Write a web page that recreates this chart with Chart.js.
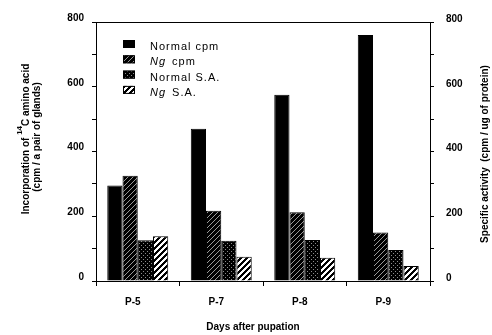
<!DOCTYPE html>
<html>
<head>
<meta charset="utf-8">
<script src="https://cdn.jsdelivr.net/npm/chart.js@4"></script>
<style>
  html, body { margin: 0; padding: 0; background: #fff; }
  #wrap { width: 492px; height: 335px; }
</style>
</head>
<body>
<div id="wrap"><canvas id="chart" width="492" height="335"></canvas></div>
<script>
const days = ["P-5", "P-7", "P-8", "P-9"];
const normalCpm = [295, 470, 575, 760];
const ngCpm = [325, 217, 212, 150];
const normalSA = [126, 124, 127, 96];
const ngSA = [138, 75, 72, 46];
const yTicks = [0, 200, 400, 600, 800];

const FONT = "'Liberation Sans', Arial, sans-serif";

// little tiles for the fill patterns
function makePattern(size, draw) {
  const c = document.createElement('canvas');
  c.width = size; c.height = size;
  const g = c.getContext('2d');
  draw(g, size);
  return document.getElementById('chart').getContext('2d').createPattern(c, 'repeat');
}

const hatchDark = makePattern(5, (g, s) => {
  g.fillStyle = '#000'; g.fillRect(0, 0, s, s);
  g.fillStyle = '#9a9a9a';
  for (let i = 0; i < s; i++) g.fillRect(i, s - 1 - i, 1, 1);
});
const dotsDark = makePattern(4, (g, s) => {
  g.fillStyle = '#000'; g.fillRect(0, 0, s, s);
  g.fillStyle = '#8c8c8c';
  g.fillRect(1, 1, 1, 1); g.fillRect(3, 3, 1, 1);
});
const stripes = makePattern(6, (g, s) => {
  g.fillStyle = '#fff'; g.fillRect(0, 0, s, s);
  g.fillStyle = '#000';
  for (let x = 0; x < s; x++) {
    for (let k = 0; k < 3; k++) g.fillRect(x, (s - 1 - x + k) % s, 1, 1);
  }
});

const series = [
  { label: "Normal cpm", data: normalCpm, fill: '#000', axis: 'y' },
  { label: "Ng cpm", data: ngCpm, fill: hatchDark, axis: 'y' },
  { label: "Normal S.A.", data: normalSA, fill: dotsDark, axis: 'y1' },
  { label: "Ng S.A.", data: ngSA, fill: stripes, axis: 'y1' }
];

// legend, axis titles and top frame line
const extras = {
  id: 'extras',
  afterDraw(chart) {
    const ctx = chart.ctx;
    const a = chart.chartArea;
    ctx.save();
    ctx.strokeStyle = '#000';
    ctx.lineWidth = 1;
    ctx.beginPath();
    ctx.moveTo(a.left, a.top + 0.5);
    ctx.lineTo(a.right, a.top + 0.5);
    ctx.stroke();

    // legend
    chart.data.datasets.forEach((ds, i) => {
      const y = 40 + i * 15.3;
      ctx.fillStyle = ds.backgroundColor;
      ctx.fillRect(123, y, 12, 8);
      ctx.strokeRect(123.5, y + 0.5, 11, 7);
      ctx.fillStyle = '#000';
      ctx.textBaseline = 'middle';
      ctx.textAlign = 'left';
      ctx.letterSpacing = '1px';
      let x = 150;
      let rest = ds.label;
      if (rest.startsWith('Ng')) {
        ctx.font = 'italic 11px ' + FONT;
        ctx.fillText('Ng', x, y + 7);
        x += ctx.measureText('Ng').width + 2;
        rest = rest.slice(2);
      }
      ctx.font = '11px ' + FONT;
      ctx.fillText(rest, x, y + 7);
    });
    ctx.letterSpacing = '0px';

    // left title, two lines, with superscript 14
    ctx.fillStyle = '#000';
    ctx.save();
    ctx.translate(26, 139);
    ctx.rotate(-Math.PI / 2);
    ctx.textBaseline = 'middle';
    ctx.textAlign = 'left';
    const p1 = 'Incorporation of ', p2 = '14', p3 = 'C amino acid';
    ctx.font = 'bold 10px ' + FONT;
    const w1 = ctx.measureText(p1).width, w3 = ctx.measureText(p3).width;
    ctx.font = 'bold 8px ' + FONT;
    const w2 = ctx.measureText(p2).width;
    let x0 = -(w1 + w2 + w3) / 2;
    ctx.font = 'bold 10px ' + FONT;
    ctx.fillText(p1, x0, 0);
    ctx.font = 'bold 8px ' + FONT;
    ctx.fillText(p2, x0 + w1, -6);
    ctx.font = 'bold 10px ' + FONT;
    ctx.fillText(p3, x0 + w1 + w2, 0);
    ctx.restore();

    ctx.save();
    ctx.translate(37, 137);
    ctx.rotate(-Math.PI / 2);
    ctx.textAlign = 'center';
    ctx.textBaseline = 'middle';
    ctx.font = 'bold 10px ' + FONT;
    ctx.fillText('(cpm / a pair of glands)', 0, 0);
    ctx.restore();

    // right title
    ctx.save();
    ctx.translate(485, 154);
    ctx.rotate(-Math.PI / 2);
    ctx.textAlign = 'center';
    ctx.textBaseline = 'middle';
    ctx.font = 'bold 10px ' + FONT;
    ctx.fillText('Specific activity  (cpm / ug of protein)', 0, 0);
    ctx.restore();

    // x title
    ctx.textAlign = 'center';
    ctx.textBaseline = 'middle';
    ctx.font = 'bold 10px ' + FONT;
    ctx.fillText('Days after pupation', 253, 327);
    ctx.restore();
  }
};

function yAxis(position, offset) {
  return {
    type: 'linear',
    position: position,
    min: 0,
    max: 800,
    afterBuildTicks(scale) {
      scale.ticks = [];
      for (let v = 0; v <= 800; v += 100) scale.ticks.push({ value: v });
    },
    afterFit(scale) { scale.width = position === 'left' ? 96 : 62; },
    grid: { display: true, drawOnChartArea: false, color: '#000', tickLength: 4, lineWidth: 1 },
    border: { display: true, color: '#000', width: 1 },
    ticks: {
      color: '#000',
      padding: position === 'left' ? 8 : 12,
      labelOffset: offset,
      font: { family: FONT, size: 10, weight: 'bold' },
      callback: v => yTicks.includes(v) ? String(v) : ''
    }
  };
}

new Chart(document.getElementById('chart'), {
  type: 'bar',
  data: {
    labels: days,
    datasets: series.map(s => ({
      label: s.label,
      data: s.data,
      yAxisID: s.axis,
      backgroundColor: s.fill,
      borderColor: '#000',
      borderWidth: 1,
      categoryPercentage: 0.73,
      barPercentage: 1
    }))
  },
  plugins: [extras],
  options: {
    responsive: false,
    animation: false,
    layout: { padding: { top: 22, left: 0, right: 0, bottom: 0 } },
    plugins: { legend: { display: false }, tooltip: { enabled: false } },
    scales: {
      x: {
        afterFit(scale) { scale.height = 54; },
        grid: { display: true, drawOnChartArea: false, offset: true, color: '#000', tickLength: 5 },
        border: { display: true, color: '#000', width: 1 },
        ticks: {
          color: '#000',
          padding: 10,
          labelOffset: -5,
          font: { family: FONT, size: 10, weight: 'bold' }
        }
      },
      y: yAxis('left', -4),
      y1: yAxis('right', -3)
    }
  }
});
</script>
</body>
</html>
